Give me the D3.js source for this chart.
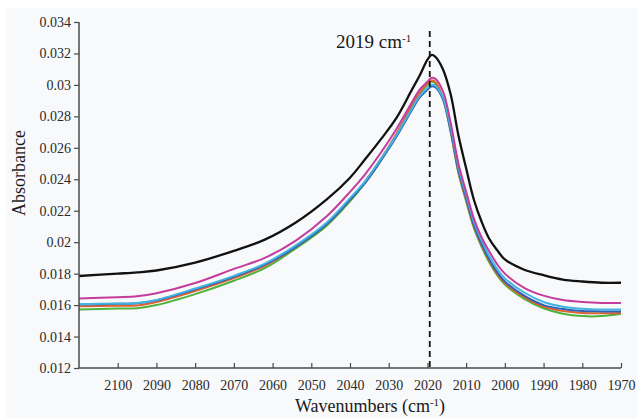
<!DOCTYPE html>
<html>
<head>
<meta charset="utf-8">
<script src="https://cdn.jsdelivr.net/npm/d3@7"></script>
<style>
  html, body { margin: 0; padding: 0; background: #ffffff; }
  svg { display: block; }
  .tick text { font-family: 'Liberation Serif', 'Times New Roman', serif; }
</style>
</head>
<body>
<script>
// ---- data ----
const wavenumbers = [2110, 2100, 2095, 2090, 2080, 2070, 2062, 2054, 2046, 2040, 2036, 2032, 2028, 2024, 2022, 2020, 2019, 2018, 2016, 2014, 2012, 2010, 2008, 2006, 2004, 2002, 2000, 1995, 1990, 1985, 1980, 1975, 1970];

const seriesGreen   = [0.01572, 0.01578, 0.0158, 0.0160, 0.0167, 0.01755, 0.01835, 0.0196, 0.02105, 0.0226, 0.0238, 0.0252, 0.0268, 0.0286, 0.0294, 0.0300, 0.0302, 0.0301, 0.0291, 0.0270, 0.0244, 0.0226, 0.0209, 0.0197, 0.0187, 0.0179, 0.0173, 0.0164, 0.0158, 0.01545, 0.0153, 0.0153, 0.01545];
const seriesOrange  = [0.01593, 0.01596, 0.01598, 0.0162, 0.0169, 0.01772, 0.0185, 0.0197, 0.02115, 0.0227, 0.0239, 0.0253, 0.0269, 0.0287, 0.0295, 0.0301, 0.0303, 0.0302, 0.0292, 0.0271, 0.0245, 0.0227, 0.0210, 0.0198, 0.0188, 0.0180, 0.0174, 0.0165, 0.0159, 0.01562, 0.0155, 0.01548, 0.0155];
const seriesBlue    = [0.01603, 0.01608, 0.01612, 0.0163, 0.0170, 0.0178, 0.01857, 0.0197, 0.02115, 0.0227, 0.0238, 0.0252, 0.0267, 0.0284, 0.0292, 0.0297, 0.0299, 0.02985, 0.0291, 0.0271, 0.0246, 0.0228, 0.0211, 0.0199, 0.0189, 0.0181, 0.0175, 0.0166, 0.0160, 0.01575, 0.01562, 0.0156, 0.0156];
const seriesCyan    = [0.01606, 0.0161, 0.01614, 0.01633, 0.01705, 0.01786, 0.01864, 0.0198, 0.02125, 0.0228, 0.0239, 0.0253, 0.0268, 0.0285, 0.0293, 0.0298, 0.0300, 0.02995, 0.0292, 0.0273, 0.0248, 0.0230, 0.0213, 0.0201, 0.0191, 0.0183, 0.0177, 0.0168, 0.0162, 0.0159, 0.01577, 0.01572, 0.01572];
const seriesMagenta = [0.01642, 0.0165, 0.01656, 0.01675, 0.0174, 0.0183, 0.0190, 0.0201, 0.02165, 0.0232, 0.02435, 0.0257, 0.0272, 0.0289, 0.0297, 0.0302, 0.03045, 0.0304, 0.0296, 0.0276, 0.0250, 0.0232, 0.0215, 0.0203, 0.0194, 0.0186, 0.0180, 0.0171, 0.0166, 0.01632, 0.0162, 0.01614, 0.01614];
const seriesBlack   = [0.01785, 0.0180, 0.01808, 0.0182, 0.0187, 0.01945, 0.02016, 0.02125, 0.02272, 0.0241, 0.0253, 0.02655, 0.0279, 0.0297, 0.0306, 0.0316, 0.0319, 0.0318, 0.0310, 0.0294, 0.0268, 0.0247, 0.0227, 0.0213, 0.0202, 0.0195, 0.0189, 0.01825, 0.0179, 0.01762, 0.0175, 0.01742, 0.01742];

const xTicks = [2100, 2090, 2080, 2070, 2060, 2050, 2040, 2030, 2020, 2010, 2000, 1990, 1980, 1970];
const yTicks = [0.012, 0.014, 0.016, 0.018, 0.02, 0.022, 0.024, 0.026, 0.028, 0.03, 0.032, 0.034];
const peakWavenumber = 2019.4;

const seriesList = [
  { name: "green",   values: seriesGreen,   color: "#4db33d" },
  { name: "orange",  values: seriesOrange,  color: "#e0622e" },
  { name: "blue",    values: seriesBlue,    color: "#2f5fb3" },
  { name: "cyan",    values: seriesCyan,    color: "#43b4e2" },
  { name: "magenta", values: seriesMagenta, color: "#c43c9c" },
  { name: "black",   values: seriesBlack,   color: "#111111" }
];

// ---- layout ----
const W = 637, H = 418;
const mLeft = 79, mRight = 621, mTop = 22, mBottom = 368;

const svg = d3.select("body").append("svg").attr("width", W).attr("height", H);
svg.append("rect").attr("x", 0).attr("y", 0).attr("width", W).attr("height", H).attr("fill", "#ffffff");
svg.append("rect").attr("x", 6).attr("y", 8).attr("width", W - 6).attr("height", H - 8).attr("fill", "#f8f9fb");

const x = d3.scaleLinear().domain([2110, 1970]).range([mLeft, mRight]);
const y = d3.scaleLinear().domain([0.012, 0.034]).range([mBottom, mTop]);

const font = "'Liberation Serif', 'Times New Roman', serif";

// curves
const line = d3.line()
  .x((d, i) => x(wavenumbers[i]))
  .y(d => y(d))
  .curve(d3.curveCatmullRom.alpha(0.5));

svg.append("g").selectAll("path").data(seriesList).join("path")
  .attr("d", s => line(s.values))
  .attr("fill", "none")
  .attr("stroke", s => s.color)
  .attr("stroke-width", s => s.name === "black" ? 2.3 : 2)
  .attr("stroke-linejoin", "round");

// dashed peak line
svg.append("line")
  .attr("x1", x(peakWavenumber)).attr("x2", x(peakWavenumber))
  .attr("y1", 31).attr("y2", mBottom)
  .attr("stroke", "#111").attr("stroke-width", 1.8)
  .attr("stroke-dasharray", "6,4");

// axes
const axisColor = "#4a4a4a";
const yAxis = svg.append("g").attr("transform", `translate(${mLeft},0)`)
  .call(d3.axisLeft(y).tickValues(yTicks).tickSize(5).tickPadding(3)
    .tickFormat(d => String(+d.toFixed(3))));
const xAxis = svg.append("g").attr("transform", `translate(0,${mBottom})`)
  .call(d3.axisBottom(x).tickValues(xTicks).tickFormat(d3.format("d"))
    .tickSizeInner(-5).tickSizeOuter(0).tickPadding(12));

[yAxis, xAxis].forEach(g => {
  g.attr("font-family", font).attr("font-size", 14);
  g.select(".domain").attr("stroke", axisColor).attr("stroke-width", 1.5);
  g.selectAll(".tick line").attr("stroke", axisColor).attr("stroke-width", 1.2);
  g.selectAll(".tick text").attr("fill", "#2a2a2a").attr("font-family", font);
});
yAxis.select(".domain").attr("d", `M0,${mBottom}V${mTop}`);
xAxis.select(".domain").attr("d", `M${mLeft},0H${mRight}`);

// axis titles
svg.append("text")
  .attr("transform", `translate(25,${(mTop + mBottom) / 2 - 22}) rotate(-90)`)
  .attr("text-anchor", "middle")
  .attr("font-family", font).attr("font-size", 18).attr("fill", "#1a1a1a")
  .text("Absorbance");

const xt = svg.append("text")
  .attr("x", 370).attr("y", 412)
  .attr("text-anchor", "middle")
  .attr("font-family", font).attr("font-size", 18).attr("fill", "#1a1a1a");
xt.append("tspan").text("Wavenumbers (cm");
xt.append("tspan").attr("dy", -6).attr("font-size", 11).text("-1");
xt.append("tspan").attr("dy", 6).text(")");

// annotation
const an = svg.append("text")
  .attr("x", 336).attr("y", 48)
  .attr("font-family", font).attr("font-size", 19).attr("fill", "#1a1a1a");
an.append("tspan").text("2019 cm");
an.append("tspan").attr("dy", -6).attr("font-size", 11).text("-1");
</script>
</body>
</html>
